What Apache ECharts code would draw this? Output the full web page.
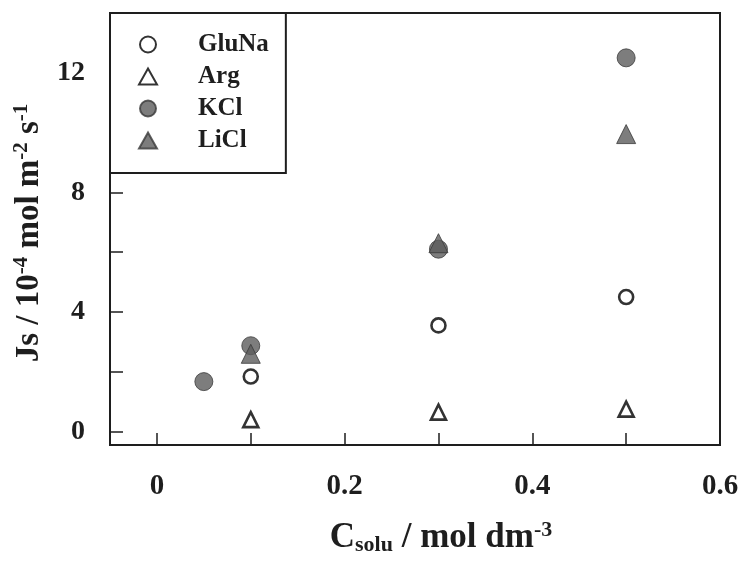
<!DOCTYPE html>
<html>
<head>
<meta charset="utf-8">
<script src="https://cdn.jsdelivr.net/npm/echarts@6/dist/echarts.min.js"></script>
<style>
  html, body { margin: 0; padding: 0; background: #fff; }
  #main { width: 744px; height: 566px; }
</style>
</head>
<body>
<div id="main"></div>
<script>
// data
var gluNa = [[0.1, 1.84], [0.3, 3.55], [0.5, 4.5]];
var arg = [[0.1, 0.4], [0.3, 0.65], [0.5, 0.75]];
var kcl = [[0.05, 1.67], [0.1, 2.87], [0.3, 6.1], [0.5, 12.5]];
var licl = [[0.1, 2.6], [0.3, 6.3], [0.5, 9.95]];

var xTicks = [0, 0.1, 0.2, 0.3, 0.4, 0.5];
var xLabels = [0, 0.2, 0.4, 0.6];
var yTicks = [0, 2, 4, 6, 8, 10, 12];
var yLabels = [0, 4, 8, 12];

var ink = "#1e1e1e";
var fillGrey = "#5c5c5c";
var serif = "Liberation Serif";

var myChart = echarts.init(document.getElementById("main"));

var option = {
  animation: false,
  backgroundColor: "#fff",
  grid: {
    left: 110,
    right: 24,
    top: 13,
    bottom: 121,
    show: true,
    borderColor: ink,
    borderWidth: 2,
  },
  legend: {
    orient: "vertical",
    left: 110,
    top: 13,
    backgroundColor: "#fff",
    borderColor: ink,
    borderWidth: 2,
    padding: [19, 17, 20, 28],
    itemWidth: 18,
    itemHeight: 16,
    itemGap: 7,
    textStyle: {
      fontFamily: serif,
      fontWeight: "bold",
      fontSize: 25,
      color: ink,
      padding: [0, 0, 0, 36],
    },
    data: ["GluNa", "Arg", "KCl", "LiCl"],
  },
  xAxis: {
    type: "value",
    min: -0.05,
    max: 0.6,
    splitLine: { show: false },
    axisLine: { show: true, onZero: false, lineStyle: { color: ink, width: 2 } },
    axisTick: {
      show: true,
      inside: true,
      length: 12,
      customValues: xTicks,
      lineStyle: { color: ink, width: 1.5 },
    },
    axisLabel: {
      customValues: xLabels,
      margin: 27,
      fontFamily: serif,
      fontWeight: "bold",
      fontSize: 29,
      color: ink,
    },
    name: "{a|C}{sub|solu}{a| / mol dm}{sup|-3}",
    nameLocation: "middle",
    nameGap: 74,
    nameTextStyle: {
      padding: [0, 0, 0, 52],
      rich: {
        a: { fontFamily: serif, fontWeight: "bold", fontSize: 35, color: ink },
        sub: { fontFamily: serif, fontWeight: "bold", fontSize: 22, color: ink, padding: [14, 0, 0, 0] },
        sup: { fontFamily: serif, fontWeight: "bold", fontSize: 22, color: ink, padding: [0, 0, 16, 0] },
      },
    },
  },
  yAxis: {
    type: "value",
    min: -0.45,
    max: 14,
    splitLine: { show: false },
    axisLine: { show: true, onZero: false, lineStyle: { color: ink, width: 2 } },
    axisTick: {
      show: true,
      inside: true,
      length: 13,
      customValues: yTicks,
      lineStyle: { color: ink, width: 1.5 },
    },
    axisLabel: {
      customValues: yLabels,
      margin: 25,
      fontFamily: serif,
      fontWeight: "bold",
      fontSize: 28,
      color: ink,
    },
    name: "{a|Js / 10}{sup|-4}{a| mol m}{sup|-2}{a| s}{sup|-1}",
    nameLocation: "middle",
    nameGap: 60,
    nameTextStyle: {
      padding: [0, 8, 0, 0],
      rich: {
        a: { fontFamily: serif, fontWeight: "bold", fontSize: 33, color: ink },
        sup: { fontFamily: serif, fontWeight: "bold", fontSize: 21, color: ink, padding: [0, 0, 16, 0] },
      },
    },
  },
  series: [
    {
      name: "KCl",
      type: "scatter",
      data: kcl,
      symbol: "circle",
      symbolSize: 18,
      itemStyle: { color: fillGrey, borderColor: "#3a3a3a", borderWidth: 1 },
    },
    {
      name: "LiCl",
      type: "scatter",
      data: licl,
      symbol: "triangle",
      symbolSize: 19,
      itemStyle: { color: fillGrey, borderColor: "#3a3a3a", borderWidth: 1 },
    },
    {
      name: "GluNa",
      type: "scatter",
      data: gluNa,
      symbol: "circle",
      symbolSize: 14,
      itemStyle: { color: "#fff", borderColor: "#000", borderWidth: 2.6 },
    },
    {
      name: "Arg",
      type: "scatter",
      data: arg,
      symbol: "triangle",
      symbolSize: 15,
      itemStyle: { color: "#fff", borderColor: "#000", borderWidth: 2.6 },
    },
  ],
};

window.addEventListener("resize", function () {
  myChart.resize();
});
myChart.setOption(option);
</script>
</body>
</html>
